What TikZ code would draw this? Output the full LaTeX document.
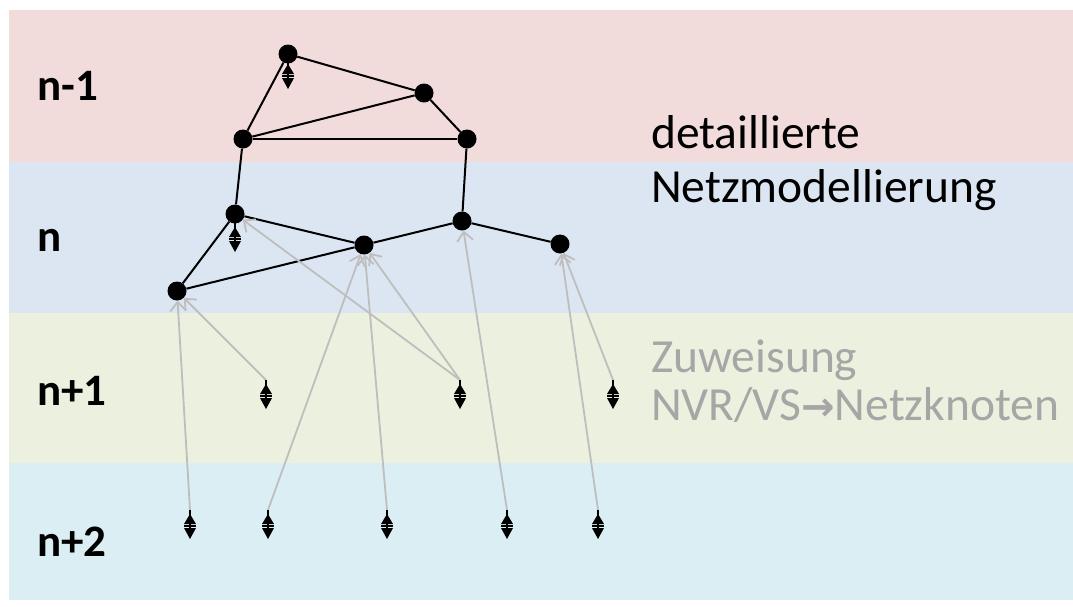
\documentclass[tikz,border=0pt]{standalone}
\usepackage{fontspec}
\setmainfont{Carlito}
\newfontfamily\arrowfont{DejaVu Sans}
\usetikzlibrary{arrows.meta}
\definecolor{bandA}{HTML}{F2DCDB}
\definecolor{bandB}{HTML}{DCE6F2}
\definecolor{bandC}{HTML}{EBF1DE}
\definecolor{bandD}{HTML}{DBEEF4}
\definecolor{assign}{HTML}{BEBEBE}
\definecolor{assigntext}{HTML}{A6A6A6}
\tikzset{
  bus/.style={circle, fill=black, inner sep=0pt, minimum size=19pt},
  grid line/.style={line width=2pt, black},
  assignment/.style={draw=assign, line width=1.8pt,
    -{Straight Barb[length=9pt,width=16pt,line width=1.8pt]}},
  lvl/.style={anchor=base west, inner sep=0pt, font=\fontsize{45}{52}\selectfont\bfseries},
  note/.style={anchor=base west, inner sep=0pt, font=\fontsize{47.5}{54}\selectfont},
  unit/.pic={
    \draw[line width=1.8pt] (0,0) -- (0,27);
    \fill (0,4) -- (6,14) -- (-6,14) -- cycle;
    \draw[line width=1.8pt] (-6,16) -- (6,16);
    \fill (-6,18) -- (6,18) -- (0,29) -- cycle;
  }
}
\begin{document}
\begin{tikzpicture}[x=1pt, y=-1pt]
  \path[use as bounding box] (0,0) rectangle (1073,606);

  % voltage level bands
  \fill[bandA] (9,10) rectangle (1073,162);
  \fill[bandB] (9,162) rectangle (1073,313);
  \fill[bandC] (9,313) rectangle (1073,463);
  \fill[bandD] (9,463) rectangle (1073,600);

  % level labels
  \node[lvl] (l1) at (37,100) {n-1};
  \node[lvl] (l2) at (37,251) {n};
  \node[lvl] (l3) at (37,405) {n+1};
  \node[lvl] (l4) at (37,556) {n+2};

  % descriptions
  \node[note] (t1) at (651,148) {detaillierte};
  \node[note] (t2) at (651,202) {Netzmodellierung};
  \node[note, text=assigntext] (t3) at (651,372) {Zuweisung};
  \node[note, text=assigntext] (t4) at (651,420)
    {NVR/VS{\arrowfont\fontsize{40}{44}\selectfont\bfseries →}Netzknoten};

  % grid nodes
  \node[bus] (A) at (288,54) {};
  \node[bus] (B) at (424,93) {};
  \node[bus] (C) at (243,139) {};
  \node[bus] (D) at (467,139) {};
  \node[bus] (E) at (235,214) {};
  \node[bus] (F) at (364,245) {};
  \node[bus] (G) at (462,221) {};
  \node[bus] (H) at (560,244) {};
  \node[bus] (I) at (177,291) {};

  % grid lines
  \draw[grid line] (A) -- (B);
  \draw[grid line] (A) -- (C);
  \draw[grid line] (B) -- (C);
  \draw[grid line] (B) -- (D);
  \draw[grid line] (C) -- (D);
  \draw[grid line] (C) -- (E);
  \draw[grid line] (D) -- (G);
  \draw[grid line] (E) -- (F);
  \draw[grid line] (E) -- (I);
  \draw[grid line] (I) -- (F);
  \draw[grid line] (F) -- (G);
  \draw[grid line] (G) -- (H);

  % connection points
  \coordinate (sA) at (288,60);
  \coordinate (sE) at (235,223);
  \coordinate (u1) at (266,380);
  \coordinate (u2) at (460,380);
  \coordinate (u3) at (613,380);
  \coordinate (w1) at (190,510);
  \coordinate (w2) at (268,510);
  \coordinate (w3) at (387,510);
  \coordinate (w4) at (507,510);
  \coordinate (w5) at (598,510);

  % assignment arrows
  \draw[assignment] (u1) -- (I);
  \draw[assignment] (u2) -- (E);
  \draw[assignment] (u2) -- (F);
  \draw[assignment] (u3) -- (H);
  \draw[assignment] (w1) -- (I);
  \draw[assignment] (w2) -- (F);
  \draw[assignment] (w3) -- (F);
  \draw[assignment] (w4) -- (G);
  \draw[assignment] (w5) -- (H);

  % bidirectional units
  \foreach \p in {sA,sE,u1,u2,u3,w1,w2,w3,w4,w5}
    \pic at (\p) {unit};
\end{tikzpicture}
\end{document}
